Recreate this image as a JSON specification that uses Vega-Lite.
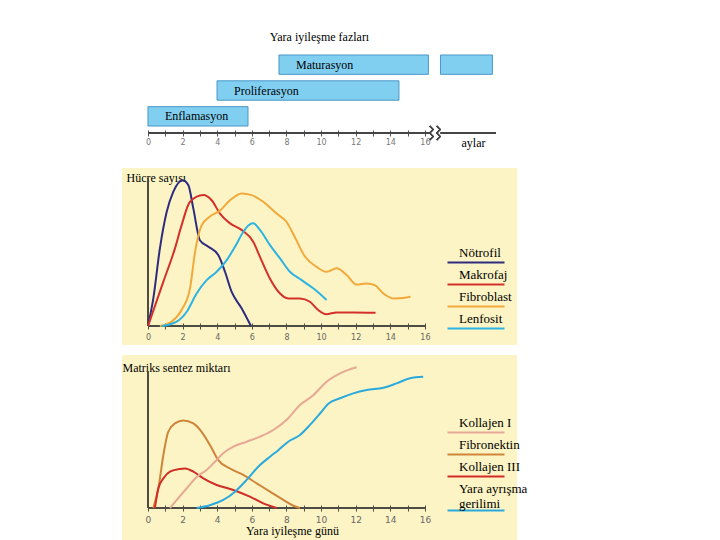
{
  "$schema": "https://vega.github.io/schema/vega-lite/v6.json",
  "background": "white",
  "padding": {"left": 122, "top": 31, "right": 5, "bottom": 0},
  "config": {"view": {"stroke": null}, "font": "Liberation Serif"},
  "datasets": {
    "fazlar": [
      {"faz": "Maturasyon", "baslangic": 7.57, "bitis": 16.2, "etiket": "Maturasyon"},
      {"faz": "Maturasyon", "baslangic": 16.9, "bitis": 19.9, "etiket": ""},
      {"faz": "Proliferasyon", "baslangic": 3.99, "bitis": 14.5, "etiket": "Proliferasyon"},
      {"faz": "Enflamasyon", "baslangic": 0, "bitis": 5.78, "etiket": "Enflamasyon"}
    ],
    "hucre": [
      {"tur": "Nötrofil", "gun": 0, "deger": 0},
      {"tur": "Nötrofil", "gun": 0.31, "deger": 18.7},
      {"tur": "Nötrofil", "gun": 0.69, "deger": 52.5},
      {"tur": "Nötrofil", "gun": 1.08, "deger": 77},
      {"tur": "Nötrofil", "gun": 1.46, "deger": 90.7},
      {"tur": "Nötrofil", "gun": 2.0, "deger": 98.6},
      {"tur": "Nötrofil", "gun": 2.33, "deger": 95.3},
      {"tur": "Nötrofil", "gun": 2.62, "deger": 79.5},
      {"tur": "Nötrofil", "gun": 3.0, "deger": 58},
      {"tur": "Nötrofil", "gun": 3.49, "deger": 53.6},
      {"tur": "Nötrofil", "gun": 4.06, "deger": 48},
      {"tur": "Nötrofil", "gun": 4.45, "deger": 36.7},
      {"tur": "Nötrofil", "gun": 4.83, "deger": 23.2},
      {"tur": "Nötrofil", "gun": 5.41, "deger": 12},
      {"tur": "Nötrofil", "gun": 5.95, "deger": 0},
      {"tur": "Makrofaj", "gun": 0, "deger": 0},
      {"tur": "Makrofaj", "gun": 0.89, "deger": 30},
      {"tur": "Makrofaj", "gun": 1.56, "deger": 52.5},
      {"tur": "Makrofaj", "gun": 1.94, "deger": 68},
      {"tur": "Makrofaj", "gun": 2.43, "deger": 84},
      {"tur": "Makrofaj", "gun": 3.2, "deger": 88.5},
      {"tur": "Makrofaj", "gun": 3.68, "deger": 85},
      {"tur": "Makrofaj", "gun": 4.16, "deger": 76},
      {"tur": "Makrofaj", "gun": 4.74, "deger": 69.4},
      {"tur": "Makrofaj", "gun": 5.41, "deger": 65},
      {"tur": "Makrofaj", "gun": 6.08, "deger": 57},
      {"tur": "Makrofaj", "gun": 6.47, "deger": 46.8},
      {"tur": "Makrofaj", "gun": 7.05, "deger": 32},
      {"tur": "Makrofaj", "gun": 7.63, "deger": 22},
      {"tur": "Makrofaj", "gun": 8.1, "deger": 18.7},
      {"tur": "Makrofaj", "gun": 8.78, "deger": 18.7},
      {"tur": "Makrofaj", "gun": 9.36, "deger": 16.4},
      {"tur": "Makrofaj", "gun": 9.84, "deger": 10.8},
      {"tur": "Makrofaj", "gun": 10.3, "deger": 8},
      {"tur": "Makrofaj", "gun": 10.9, "deger": 9.2},
      {"tur": "Makrofaj", "gun": 11.86, "deger": 9.2},
      {"tur": "Makrofaj", "gun": 13.15, "deger": 9},
      {"tur": "Fibroblast", "gun": 0.69, "deger": 0},
      {"tur": "Fibroblast", "gun": 1.37, "deger": 3},
      {"tur": "Fibroblast", "gun": 1.94, "deger": 10.8},
      {"tur": "Fibroblast", "gun": 2.43, "deger": 25.5},
      {"tur": "Fibroblast", "gun": 2.72, "deger": 50},
      {"tur": "Fibroblast", "gun": 3.1, "deger": 68},
      {"tur": "Fibroblast", "gun": 3.58, "deger": 74},
      {"tur": "Fibroblast", "gun": 4.16, "deger": 78},
      {"tur": "Fibroblast", "gun": 4.74, "deger": 85},
      {"tur": "Fibroblast", "gun": 5.41, "deger": 89.6},
      {"tur": "Fibroblast", "gun": 5.99, "deger": 88.5},
      {"tur": "Fibroblast", "gun": 6.66, "deger": 84},
      {"tur": "Fibroblast", "gun": 7.43, "deger": 76},
      {"tur": "Fibroblast", "gun": 8.0, "deger": 70.5},
      {"tur": "Fibroblast", "gun": 8.49, "deger": 60},
      {"tur": "Fibroblast", "gun": 9.07, "deger": 47},
      {"tur": "Fibroblast", "gun": 9.74, "deger": 40},
      {"tur": "Fibroblast", "gun": 10.32, "deger": 36.7},
      {"tur": "Fibroblast", "gun": 10.9, "deger": 39},
      {"tur": "Fibroblast", "gun": 11.48, "deger": 34.5},
      {"tur": "Fibroblast", "gun": 12.06, "deger": 28},
      {"tur": "Fibroblast", "gun": 12.63, "deger": 28.8},
      {"tur": "Fibroblast", "gun": 13.1, "deger": 27.7},
      {"tur": "Fibroblast", "gun": 13.6, "deger": 22},
      {"tur": "Fibroblast", "gun": 14.17, "deger": 18.7},
      {"tur": "Fibroblast", "gun": 14.75, "deger": 19},
      {"tur": "Fibroblast", "gun": 15.17, "deger": 19.8},
      {"tur": "Lenfosit", "gun": 0.79, "deger": 0},
      {"tur": "Lenfosit", "gun": 1.66, "deger": 3},
      {"tur": "Lenfosit", "gun": 2.24, "deger": 9.7},
      {"tur": "Lenfosit", "gun": 2.81, "deger": 22},
      {"tur": "Lenfosit", "gun": 3.39, "deger": 31},
      {"tur": "Lenfosit", "gun": 3.97, "deger": 36.7},
      {"tur": "Lenfosit", "gun": 4.55, "deger": 44.6},
      {"tur": "Lenfosit", "gun": 5.03, "deger": 53.6},
      {"tur": "Lenfosit", "gun": 5.51, "deger": 63.7},
      {"tur": "Lenfosit", "gun": 5.8, "deger": 68},
      {"tur": "Lenfosit", "gun": 6.08, "deger": 69.4},
      {"tur": "Lenfosit", "gun": 6.47, "deger": 65},
      {"tur": "Lenfosit", "gun": 7.05, "deger": 54.7},
      {"tur": "Lenfosit", "gun": 7.63, "deger": 45.7},
      {"tur": "Lenfosit", "gun": 8.2, "deger": 36.7},
      {"tur": "Lenfosit", "gun": 8.88, "deger": 31},
      {"tur": "Lenfosit", "gun": 9.55, "deger": 25.5},
      {"tur": "Lenfosit", "gun": 10.32, "deger": 17.6}
    ],
    "matriks": [
      {"tur": "Fibronektin", "gun": 0.31, "deger": 0},
      {"tur": "Fibronektin", "gun": 0.6, "deger": 14},
      {"tur": "Fibronektin", "gun": 0.89, "deger": 37.6},
      {"tur": "Fibronektin", "gun": 1.17, "deger": 54},
      {"tur": "Fibronektin", "gun": 1.56, "deger": 60},
      {"tur": "Fibronektin", "gun": 2.04, "deger": 62},
      {"tur": "Fibronektin", "gun": 2.62, "deger": 60},
      {"tur": "Fibronektin", "gun": 3.1, "deger": 54},
      {"tur": "Fibronektin", "gun": 3.58, "deger": 44.7},
      {"tur": "Fibronektin", "gun": 4.06, "deger": 34},
      {"tur": "Fibronektin", "gun": 4.74, "deger": 28},
      {"tur": "Fibronektin", "gun": 5.51, "deger": 23.4},
      {"tur": "Fibronektin", "gun": 6.28, "deger": 17.5},
      {"tur": "Fibronektin", "gun": 7.05, "deger": 11.6},
      {"tur": "Fibronektin", "gun": 7.82, "deger": 5.7},
      {"tur": "Fibronektin", "gun": 8.4, "deger": 1.6},
      {"tur": "Fibronektin", "gun": 8.78, "deger": 0},
      {"tur": "Kollajen III", "gun": 0.4, "deger": 0},
      {"tur": "Kollajen III", "gun": 0.6, "deger": 14},
      {"tur": "Kollajen III", "gun": 0.89, "deger": 21},
      {"tur": "Kollajen III", "gun": 1.27, "deger": 25.8},
      {"tur": "Kollajen III", "gun": 1.85, "deger": 27.7},
      {"tur": "Kollajen III", "gun": 2.14, "deger": 28},
      {"tur": "Kollajen III", "gun": 2.62, "deger": 25.8},
      {"tur": "Kollajen III", "gun": 3.2, "deger": 21},
      {"tur": "Kollajen III", "gun": 3.97, "deger": 16.3},
      {"tur": "Kollajen III", "gun": 4.93, "deger": 12.8},
      {"tur": "Kollajen III", "gun": 5.89, "deger": 8},
      {"tur": "Kollajen III", "gun": 6.66, "deger": 3.3},
      {"tur": "Kollajen III", "gun": 7.43, "deger": 0},
      {"tur": "Kollajen I", "gun": 1.27, "deger": 0},
      {"tur": "Kollajen I", "gun": 1.75, "deger": 7},
      {"tur": "Kollajen I", "gun": 2.24, "deger": 14},
      {"tur": "Kollajen I", "gun": 2.81, "deger": 22},
      {"tur": "Kollajen I", "gun": 3.39, "deger": 27},
      {"tur": "Kollajen I", "gun": 3.87, "deger": 32.8},
      {"tur": "Kollajen I", "gun": 4.35, "deger": 38.8},
      {"tur": "Kollajen I", "gun": 4.93, "deger": 43.5},
      {"tur": "Kollajen I", "gun": 5.7, "deger": 47},
      {"tur": "Kollajen I", "gun": 6.47, "deger": 50.6},
      {"tur": "Kollajen I", "gun": 7.24, "deger": 55.3},
      {"tur": "Kollajen I", "gun": 8.0, "deger": 62.4},
      {"tur": "Kollajen I", "gun": 8.78, "deger": 73},
      {"tur": "Kollajen I", "gun": 9.55, "deger": 80},
      {"tur": "Kollajen I", "gun": 10.32, "deger": 89.6},
      {"tur": "Kollajen I", "gun": 11.1, "deger": 95.5},
      {"tur": "Kollajen I", "gun": 12.06, "deger": 99.8},
      {"tur": "Yara ayrışma gerilimi", "gun": 2.81, "deger": 0},
      {"tur": "Yara ayrışma gerilimi", "gun": 3.58, "deger": 2},
      {"tur": "Yara ayrışma gerilimi", "gun": 4.35, "deger": 5.7},
      {"tur": "Yara ayrışma gerilimi", "gun": 5.03, "deger": 11.6},
      {"tur": "Yara ayrışma gerilimi", "gun": 5.7, "deger": 19.9},
      {"tur": "Yara ayrışma gerilimi", "gun": 6.37, "deger": 29.3},
      {"tur": "Yara ayrışma gerilimi", "gun": 7.05, "deger": 36.4},
      {"tur": "Yara ayrışma gerilimi", "gun": 7.53, "deger": 41},
      {"tur": "Yara ayrışma gerilimi", "gun": 8.1, "deger": 47},
      {"tur": "Yara ayrışma gerilimi", "gun": 8.78, "deger": 51.8},
      {"tur": "Yara ayrışma gerilimi", "gun": 9.36, "deger": 58.9},
      {"tur": "Yara ayrışma gerilimi", "gun": 9.94, "deger": 67},
      {"tur": "Yara ayrışma gerilimi", "gun": 10.42, "deger": 74},
      {"tur": "Yara ayrışma gerilimi", "gun": 11.1, "deger": 77.8},
      {"tur": "Yara ayrışma gerilimi", "gun": 11.86, "deger": 81.3},
      {"tur": "Yara ayrışma gerilimi", "gun": 12.63, "deger": 83.7},
      {"tur": "Yara ayrışma gerilimi", "gun": 13.6, "deger": 85.3},
      {"tur": "Yara ayrışma gerilimi", "gun": 14.37, "deger": 88.4},
      {"tur": "Yara ayrışma gerilimi", "gun": 15.14, "deger": 92},
      {"tur": "Yara ayrışma gerilimi", "gun": 15.9, "deger": 93}
    ]
  },
  "bounds": "flush",
  "spacing": 35,
  "vconcat": [
    {
      "width": 395,
      "height": 85,
      "title": {"text": "Yara iyileşme fazları", "font": "Liberation Serif", "fontSize": 12, "fontWeight": "normal", "color": "#000", "offset": 4},
      "data": {"name": "fazlar"},
      "encoding": {
        "x": {"field": "baslangic", "type": "quantitative", "scale": {"domain": [-1.5, 21.32], "nice": false, "zero": false},
          "axis": {"values": [0,1,2,3,4,5,6,7,8,9,10,11,12,13,14,15,16], "labelExpr": "datum.value % 2 == 0 ? datum.label : ''", "domain": false, "grid": false, "tickSize": 6, "tickColor": "#555", "offset": -3, "labelPadding": 2, "labelFont": "DejaVu Sans", "labelFontSize": 8, "labelColor": "#777",
            "title": "aylar", "titleX": 351, "titleY": 12, "titleAlign": "center", "titleBaseline": "middle", "titleFont": "Liberation Serif", "titleFontSize": 12, "titleFontWeight": "normal", "titleColor": "#000"}},
        "y": {"field": "faz", "type": "nominal", "sort": ["Maturasyon", "Proliferasyon", "Enflamasyon"], "scale": {"paddingInner": 0.25, "paddingOuter": 0.27}, "axis": null}
      },
      "layer": [
        {"mark": {"type": "bar", "fill": "#80CFF1", "stroke": "#4B97C6", "strokeWidth": 1, "cornerRadius": 0}, "encoding": {"x2": {"field": "bitis"}}},
        {"mark": {"type": "text", "align": "left", "baseline": "middle", "dx": 17, "font": "Liberation Serif", "fontSize": 12, "color": "#000"}, "encoding": {"text": {"field": "etiket"}}},
        {"mark": {"type": "rule", "color": "#444", "strokeWidth": 1.3}, "encoding": {"x": {"datum": 0}, "x2": {"datum": 16.3}, "y": {"value": "height"}}},
        {"mark": {"type": "rule", "color": "#444", "strokeWidth": 1.3}, "encoding": {"x": {"datum": 16.9}, "x2": {"datum": 20.1}, "y": {"value": "height"}}},
        {"mark": {"type": "point", "shape": "M-1.6,-2L-0.6,-1L-1.6,0L-0.6,1L-1.6,2M0.4,-2L1.4,-1L0.4,0L1.4,1L0.4,2", "size": 49, "filled": false, "stroke": "#444", "strokeWidth": 1.2, "opacity": 1}, "encoding": {"x": {"datum": 16.6}, "y": {"value": "height"}}}
      ]
    },
    {
      "bounds": "flush",
      "spacing": 10,
      "resolve": {"scale": {"color": "independent"}},
      "vconcat": [
        {
          "width": 395,
          "height": 177,
          "view": {"fill": "#FCF4C4", "stroke": null},
          "data": {"name": "hucre"},
          "encoding": {
            "x": {"field": "gun", "type": "quantitative", "scale": {"domain": [-1.5, 21.32], "nice": false, "zero": false},
              "axis": {"values": [0,1,2,3,4,5,6,7,8,9,10,11,12,13,14,15,16], "labelExpr": "datum.value % 2 == 0 ? datum.label : ''", "domain": false, "grid": false, "tickSize": 6, "tickColor": "#4d4d44", "offset": -22, "labelPadding": 4, "labelFont": "DejaVu Sans", "labelFontSize": 8, "labelColor": "#666", "title": null}},
            "y": {"field": "deger", "type": "quantitative", "scale": {"domain": [-12.8, 106.8], "nice": false, "zero": false},
              "axis": {"domain": false, "ticks": false, "labels": false, "grid": false, "title": "Hücre sayısı", "titleAngle": 0, "titleAlign": "left", "titleBaseline": "middle", "titleX": 4, "titleY": 9, "titleFont": "Liberation Serif", "titleFontSize": 12, "titleFontWeight": "normal", "titleColor": "#000"}}
          },
          "layer": [
            {"mark": {"type": "rule", "color": "#4d4d44", "strokeWidth": 1.5}, "encoding": {"x": {"datum": 0}, "x2": {"datum": 16}, "y": {"datum": 0}}},
            {"mark": {"type": "rule", "color": "#4d4d44", "strokeWidth": 1.5}, "encoding": {"x": {"datum": 0}, "y": {"datum": 0}, "y2": {"datum": 100}}},
            {"mark": {"type": "line", "interpolate": "monotone", "strokeWidth": 2},
              "encoding": {"color": {"field": "tur", "type": "nominal",
                "scale": {"domain": ["Nötrofil", "Makrofaj", "Fibroblast", "Lenfosit"], "range": ["#2E2C7E", "#D3302B", "#F2A93B", "#2DB3E3"]},
                "legend": {"orient": "none", "legendX": 324, "legendY": 78, "title": null, "symbolType": "M-1,2L10.4,2", "symbolSize": 100, "symbolStrokeWidth": 2, "labelFont": "Liberation Serif", "labelFontSize": 13, "labelColor": "#000", "labelOffset": 0, "rowPadding": 1}}}}
          ]
        },
        {
          "width": 395,
          "height": 185,
          "view": {"fill": "#FCF4C4", "stroke": null},
          "data": {"name": "matriks"},
          "encoding": {
            "x": {"field": "gun", "type": "quantitative", "scale": {"domain": [-1.5, 21.32], "nice": false, "zero": false},
              "axis": {"values": [0,1,2,3,4,5,6,7,8,9,10,11,12,13,14,15,16], "labelExpr": "datum.value % 2 == 0 ? datum.label : ''", "domain": false, "grid": false, "tickSize": 6, "tickColor": "#4d4d44", "offset": -35, "labelPadding": 4, "labelFont": "DejaVu Sans", "labelFontSize": 9, "labelColor": "#666",
                "title": "Yara iyileşme günü", "titleX": 170, "titleY": 25, "titleAlign": "center", "titleBaseline": "middle", "titleFont": "Liberation Serif", "titleFontSize": 12, "titleFontWeight": "normal", "titleColor": "#000"}},
            "y": {"field": "deger", "type": "quantitative", "scale": {"domain": [-22.7, 108.5], "nice": false, "zero": false},
              "axis": {"domain": false, "ticks": false, "labels": false, "grid": false, "title": "Matriks sentez miktarı", "titleAngle": 0, "titleAlign": "left", "titleBaseline": "middle", "titleX": 0, "titleY": 12, "titleFont": "Liberation Serif", "titleFontSize": 12, "titleFontWeight": "normal", "titleColor": "#000"}}
          },
          "layer": [
            {"mark": {"type": "rule", "color": "#4d4d44", "strokeWidth": 1.5}, "encoding": {"x": {"datum": 0}, "x2": {"datum": 16}, "y": {"datum": 0}}},
            {"mark": {"type": "rule", "color": "#4d4d44", "strokeWidth": 1.5}, "encoding": {"x": {"datum": 0}, "y": {"datum": 0}, "y2": {"datum": 97}}},
            {"mark": {"type": "line", "interpolate": "monotone", "strokeWidth": 2},
              "encoding": {"color": {"field": "tur", "type": "nominal",
                "scale": {"domain": ["Kollajen I", "Fibronektin", "Kollajen III", "Yara ayrışma gerilimi"], "range": ["#E6A996", "#CE853A", "#D12D27", "#2AA9DD"]},
                "legend": {"orient": "none", "legendX": 324, "legendY": 61, "title": null, "symbolType": "M-1,2L10.4,2", "symbolSize": 100, "symbolStrokeWidth": 2, "labelFont": "Liberation Serif", "labelFontSize": 13, "labelColor": "#000", "labelOffset": 0, "rowPadding": 1, "labelLineHeight": 12,
                  "labelExpr": "datum.label == 'Yara ayrışma gerilimi' ? ['Yara ayrışma', 'gerilimi'] : datum.label",
                  "encode": {"symbols": {"update": {"shape": {"signal": "datum.label == 'Yara ayrışma gerilimi' ? 'M-1,4.4L10.4,4.4' : 'M-1,2L10.4,2'"}}}}}}}}
          ]
        }
      ]
    }
  ]
}
